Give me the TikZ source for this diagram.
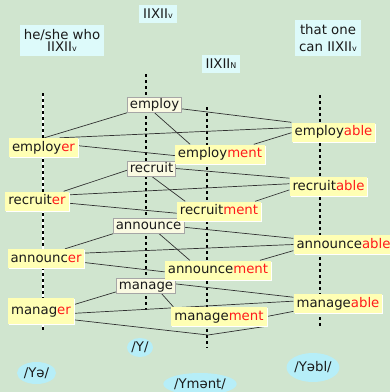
\documentclass[tikz,border=0pt]{standalone}
\usepackage{fontspec}
\setmainfont{DejaVu Sans}
\usetikzlibrary{shapes.geometric,shadows,backgrounds}

\definecolor{paper}{HTML}{D0E5CF}
\definecolor{ink}{HTML}{1A1A1A}
\definecolor{sfxred}{HTML}{FF1A1A}
\definecolor{headfill}{HTML}{DDFAFA}
\definecolor{stemfill}{HTML}{FAFAE2}
\definecolor{derivfill}{HTML}{FFFFB4}
\definecolor{soundfill}{HTML}{B6EEF8}

\newcommand{\sfx}[1]{\textcolor{sfxred}{#1}}
\newcommand{\rootof}[1]{IIXII{\fontsize{8}{8}\selectfont #1}}

\begin{document}
\begin{tikzpicture}[x=1pt, y=-1pt,
	every node/.style={text=ink, font=\fontsize{13.3}{15}\selectfont},
	head/.style={fill=headfill, align=center, inner xsep=4pt, inner ysep=4pt, minimum height=18pt},
	stem/.style={fill=stemfill, draw=black!35, line width=0.5pt, inner xsep=2.5pt, inner ysep=1pt, text height=10pt, text depth=3pt},
	deriv/.style={fill=derivfill, inner xsep=3pt, inner ysep=3pt, text height=10pt, text depth=3pt,
		drop shadow={shadow xshift=1pt, shadow yshift=-1pt, fill=white, opacity=1}},
	sound/.style={ellipse, fill=soundfill, inner sep=0pt},
	link/.style={draw=ink!90, line width=0.7pt},
	guide/.style={line width=1.7pt, dash pattern=on 3pt off 3pt}]
	\useasboundingbox (0, 0) rectangle (390, 392);

	\node (topv) at (158, 14) [head] {\rootof{v}};
	\node (who) at (62, 40.5) [head, font=\fontsize{13.3}{12}\selectfont] {he/she who\\\rootof{v}};
	\node (topn) at (221, 64) [head] {\rootof{N}};
	\node (can) at (328, 38) [head, font=\fontsize{13.3}{17}\selectfont] {that one\\can \rootof{v}};

	\node (employ) at (154.5, 105) [stem] {employ};
	\node (recruit) at (151.5, 168.5) [stem] {recruit};
	\node (announce) at (148.5, 226) [stem] {announce};
	\node (manage) at (146, 285.5) [stem] {manage};

	\node (employer) at (43.5, 147.5) [deriv] {employ\sfx{er}};
	\node (recruiter) at (37, 201) [deriv] {recruit\sfx{er}};
	\node (announcer) at (46, 258.5) [deriv] {announc\sfx{er}};
	\node (manager) at (41, 311) [deriv, minimum height=26pt] {manag\sfx{er}};

	\node (employment) at (220, 154) [deriv] {employ\sfx{ment}};
	\node (recruitment) at (219, 211) [deriv] {recruit\sfx{ment}};
	\node (announcement) at (218, 270) [deriv] {announce\sfx{ment}};
	\node (management) at (219, 316.5) [deriv] {manage\sfx{ment}};

	\node (employable) at (333.5, 132) [deriv] {employ\sfx{able}};
	\node (recruitable) at (328.5, 186.5) [deriv] {recruit\sfx{able}};
	\node (announceable) at (343.5, 244.5) [deriv] {announce\sfx{able}};
	\node (manageable) at (338, 303.5) [deriv] {manage\sfx{able}};

	\node (ya) at (36.5, 373) [sound, minimum width=39pt, minimum height=22pt] {/Yə/};
	\node (yy) at (140, 347.5) [sound, minimum width=26pt, minimum height=19pt] {/Y/};
	\node (yment) at (200, 384) [sound, minimum width=66pt, minimum height=22pt] {/Ymənt/};
	\node (yabl) at (313, 367.5) [sound, minimum width=46pt, minimum height=29pt] {/Yəbl/};

	\coordinate (bend) at (208, 335);

	\begin{scope}[on background layer]
		\fill [paper] (0, 0) rectangle (390, 392);
		\draw [white, line width=1.8pt] (43, 93) -- (43, 330);
		\draw [guide, line width=1.1pt] (43, 93) -- (43, 330);
		\draw [guide] (146, 74) -- (146, 310);
		\draw [guide] (207, 107) -- (207, 348);
		\draw [guide] (320, 95) -- (320, 328);

		\draw [link] (employ.south west) -- (employer.85);
		\draw [link] (employer.31) -- (employable.174);
		\draw [link] (employer.3) -- (employment.182);
		\draw [link] (employ.352) -- (employable.north west);
		\draw [link] (employ.south) -- (employment.162);
		\draw [link] (employment.16) -- (employable.181);

		\draw [link] (recruit.184) -- (recruiter.20);
		\draw [link] (recruiter.11) -- (recruitable.176);
		\draw [link] (recruiter.356) -- (recruitment.183);
		\draw [link] (recruit.east) -- (recruitable.168);
		\draw [link] (recruit.south) -- (recruitment.164);
		\draw [link] (recruitment.15) -- (recruitable.185);

		\draw [link] (announce.south west) -- (announcer.27);
		\draw [link] (announcer.8) -- (announceable.west);
		\draw [link] (announcer.354) -- (announcement.182);
		\draw [link] (announce.358) -- (announceable.173);
		\draw [link] (announce.324) -- (announcement.161);
		\draw [link] (announcement.13) -- (announceable.187);

		\draw [link] (manage.192) -- (manager.11);
		\draw [link] (manager.356) -- (manageable.177);
		\draw [link] (manager.345) -- (bend) -- (management.south east);
		\draw [link] (manage.3) -- (manageable.172);
		\draw [link] (manage.333) -- (management.168);
		\draw [link] (management.east) -- (manageable.190);
	\end{scope}
\end{tikzpicture}
\end{document}
